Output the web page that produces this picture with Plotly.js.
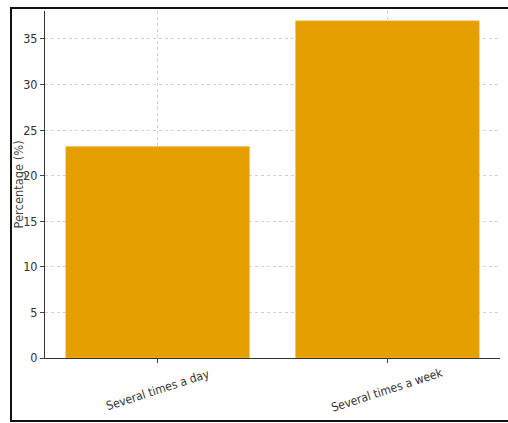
<!DOCTYPE html>
<html>
<head>
<meta charset="utf-8">
<script src="https://cdn.plot.ly/plotly-3.0.1.min.js"></script>
<style>
html,body{margin:0;padding:0;background:#fff;overflow:hidden;}
#chart{width:508px;height:423px;}
</style>
</head>
<body>
<div id="chart"></div>
<script>
const categories = ["Several times a day", "Several times a week"];
const percentages = [23.2, 37.0];
const yTicks = [0, 5, 10, 15, 20, 25, 30, 35];

const W = 508, H = 423;
const M = {l: 45, r: 8, t: 11, b: 65};
const pw = W - M.l - M.r, ph = H - M.t - M.b;
const px = v => (v - M.l) / pw;
const py = v => (H - M.b - v) / ph;

const trace = {
  type: "bar",
  x: categories,
  y: percentages,
  width: 0.8,
  marker: {color: "#E69F00", line: {color: "#F0C060", width: 0.5}},
  hoverinfo: "none"
};

const tickFont = {family: "DejaVu Sans Condensed, DejaVu Sans", size: 12.5, color: "#333"};

const annotations = categories.map(c => ({
  x: c, xref: "x",
  y: 0, yref: "paper",
  yshift: -32,
  text: c,
  showarrow: false,
  textangle: -18,
  xanchor: "center",
  yanchor: "middle",
  font: {family: "DejaVu Sans Condensed, DejaVu Sans", size: 12, color: "#333"}
}));
annotations.push({
  x: 0, xref: "paper", xshift: -27,
  y: 0.5, yref: "paper",
  text: "Percentage (%)",
  textangle: -90,
  showarrow: false,
  xanchor: "center", yanchor: "middle",
  font: {family: "DejaVu Sans", size: 11.5, color: "#444"}
});

const frameL = px(11), frameT = py(8), frameB = py(421), frameR = px(530);
const shapes = [{
  type: "path", xref: "paper", yref: "paper",
  path: `M ${frameR} ${frameT} L ${frameL} ${frameT} L ${frameL} ${frameB} L ${frameR} ${frameB}`,
  line: {color: "#111", width: 2}
}];

const layout = {
  width: W,
  height: H,
  margin: M,
  paper_bgcolor: "#ffffff",
  plot_bgcolor: "#ffffff",
  showlegend: false,
  xaxis: {
    type: "category",
    range: [-0.49, 1.49],
    showticklabels: false,
    ticks: "outside",
    ticklen: 4,
    tickcolor: "#444",
    showline: true,
    linecolor: "#333",
    linewidth: 1,
    showgrid: true,
    gridcolor: "#d0d0d0",
    griddash: "dot",
    gridwidth: 1,
    zeroline: false
  },
  yaxis: {
    range: [0, 38.07],
    tickvals: yTicks,
    ticktext: yTicks.map(String),
    ticks: "outside",
    ticklen: 4,
    tickcolor: "#444",
    showline: true,
    linecolor: "#333",
    linewidth: 1,
    showgrid: true,
    gridcolor: "#d0d0d0",
    griddash: "dot",
    gridwidth: 1,
    zeroline: false,
    tickfont: tickFont
  },
  annotations: annotations,
  shapes: shapes
};

Plotly.newPlot("chart", [trace], layout, {displayModeBar: false, staticPlot: true});
</script>
</body>
</html>
